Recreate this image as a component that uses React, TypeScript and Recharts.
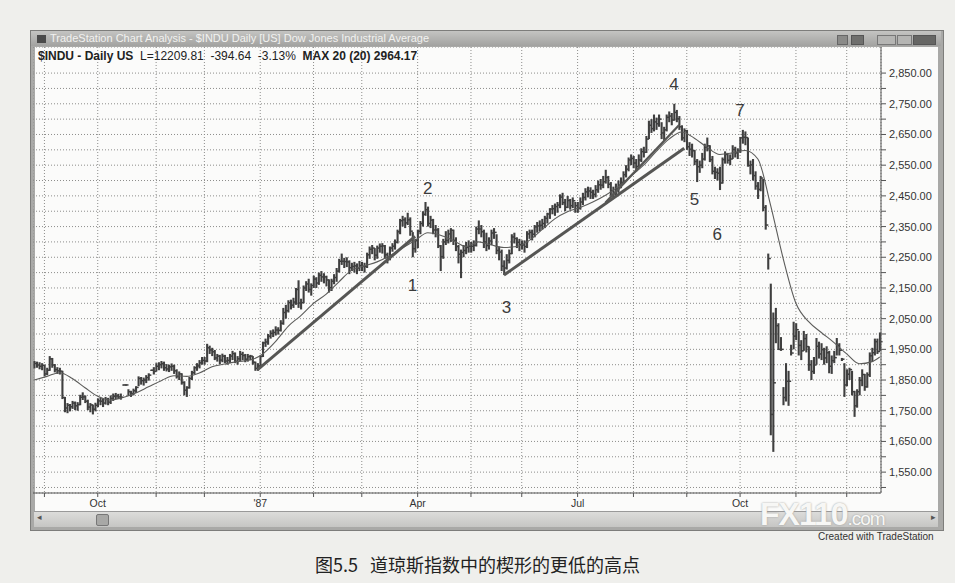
import React from "react";
import { ComposedChart, Bar, Line, XAxis, YAxis, CartesianGrid, ReferenceDot } from "recharts";

// $INDU daily bars: [high, low, close]
type HLC = [number, number, number];

const aug86: HLC[] = [[1912,1888,1904],[1910,1890,1899],[1908,1885,1895],[1905,1882,1898]];
const sep86: HLC[] = [
  [1900,1862,1870],[1890,1866,1882],[1928,1880,1919],[1922,1890,1899],[1902,1875,1884],
  [1892,1870,1880],[1890,1868,1879],[1880,1788,1793],[1795,1745,1759],[1775,1742,1768],
  [1772,1748,1763],[1782,1756,1775],[1780,1752,1766],[1778,1750,1770],[1802,1768,1794],
  [1810,1785,1795],[1800,1775,1781],[1786,1752,1762],[1775,1745,1769],[1770,1738,1755],
  [1776,1748,1768],
];
const oct86: HLC[] = [
  [1790,1762,1782],[1792,1768,1781],[1790,1762,1775],[1795,1770,1787],[1792,1768,1778],
  [1800,1772,1790],[1806,1782,1797],[1808,1788,1798],[1805,1788,1795],[1806,1786,1794],
  [1836,1832,1834],[1836,1832,1834],[1820,1798,1812],[1815,1795,1806],[1822,1800,1815],
  [1830,1808,1826],[1862,1830,1855],[1860,1835,1848],[1858,1832,1850],[1866,1840,1858],
  [1872,1848,1866],[1884,1880,1882],[1892,1868,1878],
];
const nov86: HLC[] = [
  [1905,1878,1895],[1908,1882,1900],[1912,1888,1904],[1910,1880,1890],[1902,1878,1886],
  [1900,1876,1893],[1904,1880,1895],[1900,1870,1880],[1885,1855,1862],[1878,1850,1870],
  [1872,1835,1842],[1846,1800,1817],[1830,1795,1825],[1860,1822,1855],[1880,1850,1874],
  [1895,1868,1890],[1905,1880,1896],[1915,1888,1906],[1925,1900,1914],
];
const dec86: HLC[] = [
  [1925,1900,1912],[1968,1908,1955],[1962,1935,1948],[1955,1928,1942],[1948,1915,1922],
  [1935,1910,1928],[1932,1902,1915],[1936,1908,1928],[1932,1905,1912],[1925,1900,1914],
  [1935,1905,1928],[1945,1915,1936],[1940,1905,1911],[1928,1900,1919],[1945,1912,1934],
  [1942,1915,1930],[1935,1908,1918],[1935,1910,1926],[1932,1915,1928],[1928,1900,1908],
  [1910,1880,1888],[1905,1880,1896],
];
const jan87: HLC[] = [
  [1930,1890,1927],[1975,1925,1971],[1985,1958,1974],[2000,1965,1993],[2012,1985,2002],
  [2015,1990,2005],[2025,1995,2013],[2022,1998,2012],[2045,2008,2035],[2085,2030,2070],
  [2095,2050,2076],[2110,2070,2102],[2112,2080,2094],[2118,2085,2104],[2150,2095,2145],
  [2175,2085,2101],[2115,2080,2102],[2158,2100,2150],[2172,2140,2163],[2180,2135,2145],
  [2165,2125,2158],
];
const feb87: HLC[] = [
  [2190,2150,2179],[2185,2150,2166],[2200,2160,2191],[2205,2170,2186],[2198,2165,2186],
  [2190,2155,2176],[2178,2135,2151],[2180,2140,2172],[2195,2162,2184],[2215,2170,2205],
  [2245,2200,2237],[2262,2225,2237],[2248,2215,2236],[2250,2218,2235],[2240,2195,2216],
  [2232,2205,2220],[2235,2200,2222],[2230,2195,2215],[2238,2205,2223],
];
const mar87: HLC[] = [
  [2235,2205,2220],[2232,2200,2220],[2265,2215,2258],[2285,2245,2276],[2290,2260,2280],
  [2280,2240,2257],[2288,2245,2280],[2295,2265,2286],[2296,2262,2287],[2290,2245,2258],
  [2265,2230,2244],[2285,2240,2280],[2296,2268,2286],[2308,2275,2299],[2340,2295,2333],
  [2375,2325,2369],[2385,2350,2372],[2380,2345,2362],[2395,2355,2372],[2380,2320,2335],
  [2332,2250,2278],[2310,2265,2304],
];
const apr87: HLC[] = [
  [2340,2280,2335],[2368,2325,2360],[2400,2350,2390],[2430,2385,2405],[2415,2350,2360],
  [2385,2345,2371],[2375,2325,2339],[2355,2315,2339],[2345,2280,2287],[2290,2205,2252],
  [2310,2245,2300],[2335,2290,2305],[2340,2295,2326],[2345,2300,2338],[2340,2290,2305],
  [2315,2270,2285],[2290,2230,2260],[2275,2182,2266],[2290,2250,2272],[2300,2260,2282],
  [2305,2265,2286],
];
const may87: HLC[] = [
  [2300,2265,2286],[2305,2270,2289],[2350,2285,2342],[2370,2325,2342],[2355,2315,2333],
  [2340,2280,2300],[2330,2270,2288],[2315,2275,2303],[2340,2290,2329],[2345,2310,2331],
  [2325,2260,2272],[2285,2240,2267],[2275,2205,2221],[2240,2192,2215],[2260,2210,2240],
  [2275,2230,2262],[2325,2260,2316],[2330,2295,2311],[2315,2280,2299],[2310,2270,2291],
];
const jun87: HLC[] = [
  [2305,2275,2290],[2305,2265,2285],[2335,2280,2326],[2340,2310,2331],[2340,2305,2325],
  [2355,2315,2349],[2365,2330,2352],[2370,2335,2354],[2375,2340,2360],[2385,2345,2377],
  [2395,2360,2391],[2410,2375,2407],[2420,2390,2408],[2425,2385,2415],[2430,2395,2420],
  [2455,2410,2446],[2460,2420,2428],[2440,2400,2413],[2450,2410,2435],[2440,2405,2418],
  [2445,2410,2434],[2430,2395,2418],
];
const jul87: HLC[] = [
  [2430,2395,2410],[2445,2405,2430],[2460,2420,2445],[2475,2435,2463],[2480,2445,2466],
  [2478,2440,2462],[2470,2440,2455],[2485,2445,2470],[2500,2460,2486],[2505,2470,2485],
  [2515,2475,2496],[2535,2490,2510],[2515,2475,2488],[2495,2450,2467],[2480,2445,2458],
  [2490,2450,2473],[2500,2460,2485],[2510,2475,2494],[2530,2490,2519],[2550,2510,2537],
  [2575,2530,2567],[2585,2550,2572],
];
const aug87: HLC[] = [
  [2580,2540,2557],[2570,2530,2546],[2585,2545,2567],[2605,2560,2594],[2610,2575,2592],
  [2645,2590,2635],[2695,2635,2680],[2700,2655,2669],[2715,2660,2691],[2705,2665,2685],
  [2715,2675,2700],[2690,2635,2655],[2675,2630,2665],[2715,2660,2706],[2725,2690,2710],
  [2720,2680,2697],[2750,2695,2722],[2730,2690,2701],[2710,2665,2675],[2680,2630,2639],
  [2670,2625,2662],
];
const sep87: HLC[] = [
  [2665,2600,2610],[2625,2580,2602],[2620,2575,2597],[2600,2550,2562],[2570,2495,2545],
  [2565,2525,2550],[2590,2540,2570],[2620,2565,2608],[2640,2595,2613],[2615,2560,2568],
  [2580,2520,2530],[2545,2505,2527],[2540,2500,2524],[2545,2469,2492],[2575,2490,2568],
  [2595,2555,2585],[2590,2555,2566],[2585,2550,2570],[2615,2570,2601],[2610,2575,2590],
  [2605,2570,2596],
];
const oct87: HLC[] = [
  [2642,2590,2639],[2665,2620,2641],[2660,2615,2640],[2640,2545,2549],[2565,2520,2551],
  [2570,2500,2516],[2530,2470,2482],[2495,2440,2471],[2515,2465,2508],[2505,2400,2412],
  [2420,2340,2355],[2262,2210,2246],[2164,1670,1738],[2070,1616,1841],[2085,1970,2027],
  [2035,1948,1950],[1990,1945,1950],[1827,1768,1793],[1905,1780,1846],[1880,1766,1846],
  [1965,1930,1938],[2040,1950,1993],
];
const nov87: HLC[] = [
  [2035,1980,2014],[2010,1930,1963],[1980,1915,1945],[2010,1945,1985],[2000,1940,1959],
  [1960,1880,1900],[1915,1850,1878],[1925,1870,1899],[1987,1900,1960],[1975,1920,1935],
  [1970,1915,1949],[1955,1900,1922],[1960,1905,1939],[1945,1872,1895],[1930,1870,1913],
  [1945,1905,1923],[1987,1930,1963],[1970,1930,1947],[1922,1912,1918],[1905,1795,1834],
];
const dec87: HLC[] = [
  [1885,1830,1869],[1890,1850,1884],[1880,1800,1812],[1815,1730,1766],[1820,1760,1812],
  [1860,1800,1849],[1885,1830,1868],[1870,1815,1828],[1875,1825,1867],[1940,1860,1929],
  [1955,1910,1939],[1985,1930,1975],[1985,1935,1943],[2005,1945,1975],
];

// 20-bar average as drawn, read every 5th bar (last one at bar 333)
const maEvery5 = [
  1850,1862,1874,1855,1825,1797,1785,1793,1808,1828,1848,1864,1862,1873,1893,1902,1910,
  1915,1935,1975,2025,2060,2100,2130,2170,2208,2222,2235,2255,2280,2305,2330,2322,2305,
  2285,2300,2290,2282,2285,2305,2340,2375,2398,2412,2430,2452,2480,2515,2550,2595,2635,
  2658,2638,2608,2585,2590,2598,2570,2420,2245,2100,2040,2005,1972,1935,1903,1910,
];
const maLast = 1925;

// first bar of each month, and the months that get a label
const monthStarts = [4, 25, 48, 67, 89, 110, 129, 151, 172, 192, 214, 236, 257, 278, 300, 320];
const monthLabels: Record<number, string> = { 25: "Oct", 89: "'87", 151: "Apr", 214: "Jul", 278: "Oct" };

const priceTicks = [
  1500,1550,1600,1650,1700,1750,1800,1850,1900,1950,2000,2050,2100,2150,2200,2250,2300,
  2350,2400,2450,2500,2550,2600,2650,2700,2750,2800,2850,
];

// hand-drawn trendlines: [bar, price] -> [bar, price]
const trendlines: [number, number, number, number][] = [
  [88, 1884, 150, 2318],
  [185, 2192, 256, 2605],
  [225, 2428, 254, 2681],
];

const waveLabels = [
  { text: "1", bar: 149, price: 2159 },
  { text: "2", bar: 155, price: 2475 },
  { text: "3", bar: 186, price: 2088 },
  { text: "4", bar: 252, price: 2814 },
  { text: "5", bar: 260, price: 2440 },
  { text: "6", bar: 269, price: 2326 },
  { text: "7", bar: 278, price: 2729 },
];

const bars: HLC[] = [
  ...aug86, ...sep86, ...oct86, ...nov86, ...dec86, ...jan87, ...feb87, ...mar87, ...apr87,
  ...may87, ...jun87, ...jul87, ...aug87, ...sep87, ...oct87, ...nov87, ...dec87,
];

const data = bars.map(([h, l, c], i) => {
  const row: any = { i, hl: [l, h], h, l, c };
  if (i % 5 === 0 && maEvery5[i / 5] != null) row.ma = maEvery5[i / 5];
  if (i === bars.length - 1) row.ma = maLast;
  trendlines.forEach(([b0, p0, b1, p1], k) => {
    if (i === b0) row["t" + k] = p0;
    if (i === b1) row["t" + k] = p1;
  });
  return row;
});

const FONT = "'Liberation Sans', Arial, sans-serif";
const BAR = "#3f3f3f";

const OhlcShape = (props: any) => {
  const { x, y, width, height, payload } = props;
  if (x == null || y == null || height == null) return null;
  const top = Math.min(y, y + height);
  const h = Math.max(Math.abs(height), 1.4);
  const cx = x + width / 2;
  const span = payload.h - payload.l;
  const yc = span > 0 ? top + ((payload.h - payload.c) / span) * Math.abs(height) : top + h / 2;
  return (
    <g>
      <line x1={cx} x2={cx} y1={top} y2={top + h} stroke={BAR} strokeWidth={2.1} />
      <line x1={cx} x2={cx + 2.6} y1={yc} y2={yc} stroke={BAR} strokeWidth={1.5} />
    </g>
  );
};

const MonthTick = (props: any) => {
  const { x, y, payload } = props;
  const label = monthLabels[payload.value];
  return (
    <g>
      <line x1={x} x2={x} y1={y} y2={y + 4} stroke="#555" />
      {label && (
        <text x={x} y={y + 14} textAnchor="middle" fontSize={10.5} fill="#333" fontFamily={FONT}>
          {label}
        </text>
      )}
    </g>
  );
};

const PriceTick = (props: any) => {
  const { x, y, payload } = props;
  const v = payload.value as number;
  const major = v % 100 === 50;
  return (
    <g>
      <line x1={x} x2={x + 5} y1={y} y2={y} stroke="#555" />
      {major && (
        <text x={x + 8} y={y + 4} fontSize={11} fill="#333" fontFamily={FONT}>
          {v.toLocaleString("en-US", { minimumFractionDigits: 2, maximumFractionDigits: 2 })}
        </text>
      )}
    </g>
  );
};

export default function App() {
  return (
    <div style={{ position: "absolute", left: 0, top: 0, width: 955, height: 583, background: "#efefec", fontFamily: FONT, overflow: "hidden" }}>
      {/* window frame */}
      <div style={{ position: "absolute", left: 30, top: 30, width: 912, height: 499, background: "#a9a9a7", border: "1px solid #7d7d7b" }} />
      <div style={{ position: "absolute", left: 31, top: 31, width: 910, height: 15, background: "linear-gradient(#c4c4c2, #a2a2a0)" }} />
      <div style={{ position: "absolute", left: 37, top: 35, width: 9, height: 8, background: "#4a4a4a" }} />
      <div style={{ position: "absolute", left: 50, top: 32, fontSize: 11, color: "#f2f2f0", whiteSpace: "nowrap" }}>
        TradeStation Chart Analysis - $INDU Daily [US] Dow Jones Industrial Average
      </div>
      <div style={{ position: "absolute", left: 837, top: 35, width: 9, height: 8, background: "#8a8a88", border: "1px solid #666" }} />
      <div style={{ position: "absolute", left: 851, top: 35, width: 11, height: 8, background: "#6f6f6d", border: "1px solid #555" }} />
      <div style={{ position: "absolute", left: 877, top: 35, width: 17, height: 8, background: "#b5b5b3", border: "1px solid #777" }} />
      <div style={{ position: "absolute", left: 897, top: 35, width: 13, height: 8, background: "#b5b5b3", border: "1px solid #777" }} />
      <div style={{ position: "absolute", left: 913, top: 35, width: 21, height: 8, background: "#666664", border: "1px solid #555" }} />

      {/* chart body */}
      <div style={{ position: "absolute", left: 35, top: 47, width: 903, height: 464, background: "#fbfbfa" }} />
      <div style={{ position: "absolute", left: 33, top: 47 }}>
        <ComposedChart width={922} height={463} data={data} margin={{ top: 0, right: 0, bottom: 0, left: 0 }} barCategoryGap={0}>
          <CartesianGrid stroke="#8d8d8b" strokeDasharray="1 2" />
          <XAxis
            dataKey="i"
            type="category"
            ticks={monthStarts}
            interval={0}
            height={17}
            tickLine={false}
            tickSize={0}
            tickMargin={0}
            axisLine={{ stroke: "#555" }}
            tick={<MonthTick />}
          />
          <YAxis
            orientation="right"
            type="number"
            domain={[1482, 2935]}
            allowDataOverflow
            ticks={priceTicks}
            interval={0}
            width={74}
            tickLine={false}
            tickSize={0}
            tickMargin={0}
            axisLine={{ stroke: "#555" }}
            tick={<PriceTick />}
          />
          <Bar dataKey="hl" shape={<OhlcShape />} isAnimationActive={false} />
          <Line dataKey="ma" type="monotone" stroke="#5c5c5a" strokeWidth={1.1} dot={false} connectNulls isAnimationActive={false} />
          {trendlines.map((_, k) => (
            <Line key={k} dataKey={"t" + k} type="linear" stroke="#565654" strokeWidth={k === 2 ? 2.2 : 3} dot={false} connectNulls isAnimationActive={false} />
          ))}
          {waveLabels.map((w) => (
            <ReferenceDot
              key={w.text}
              x={w.bar}
              y={w.price}
              r={1}
              fill="none"
              stroke="none"
              label={{ value: w.text, position: "center", fontSize: 17, fill: "#3a3a3a", fontFamily: FONT }}
            />
          ))}
        </ComposedChart>
      </div>

      {/* header line */}
      <div style={{ position: "absolute", left: 38, top: 49, fontSize: 12, color: "#222", whiteSpace: "pre" }}>
        <b>$INDU - Daily US</b>{"  L=12209.81  -394.64  -3.13%  "}<b>MAX 20 (20) 2964.17</b>
      </div>

      {/* scrollbar */}
      <div style={{ position: "absolute", left: 34, top: 511, width: 904, height: 15, background: "linear-gradient(#dcdcda, #c6c6c4)", borderTop: "1px solid #999" }} />
      <div style={{ position: "absolute", left: 37, top: 512, fontSize: 9, color: "#555" }}>◂</div>
      <div style={{ position: "absolute", left: 931, top: 512, fontSize: 9, color: "#555" }}>▸</div>
      <div style={{ position: "absolute", left: 96, top: 514, width: 11, height: 10, background: "#a8a8a6", border: "1px solid #777", borderRadius: 2 }} />

      {/* watermark */}
      <div style={{ position: "absolute", left: 760, top: 500, height: 28, lineHeight: "28px", fontSize: 32, fontWeight: 700, color: "#f7f7f5", textShadow: "0 0 2px #9a9a98", whiteSpace: "nowrap", letterSpacing: -1 }}>
        FX110<span style={{ fontSize: 19, fontWeight: 400 }}>.com</span>
      </div>

      <div style={{ position: "absolute", left: 818, top: 531, lineHeight: "12px", fontSize: 10, color: "#333", whiteSpace: "nowrap" }}>
        Created with TradeStation
      </div>

      <div style={{ position: "absolute", left: 0, top: 551, width: 955, textAlign: "center", fontSize: 18, color: "#222", fontFamily: "'Noto Sans CJK SC', sans-serif", whiteSpace: "pre" }}>
        {"图5.5   道琼斯指数中的楔形的更低的高点"}
      </div>
    </div>
  );
}
